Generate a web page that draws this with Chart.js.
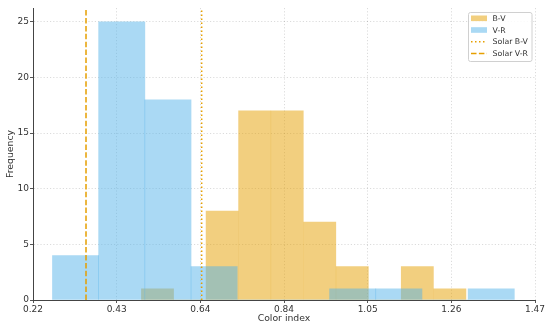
<!DOCTYPE html>
<html>
<head>
<meta charset="utf-8">
<script src="https://cdn.jsdelivr.net/npm/chart.js@4.4.1/dist/chart.umd.min.js"></script>
<style>
html,body{margin:0;padding:0;background:#fff;}
canvas{display:block;}
</style>
</head>
<body>
<canvas id="hist" width="550" height="328"></canvas>
<script>
// histogram bins (centres) and counts
const bvCenters = [0.530, 0.610, 0.691, 0.772, 0.853, 0.934, 1.015, 1.096, 1.177, 1.258];
const bvCounts = [1, 0, 8, 17, 17, 7, 3, 0, 3, 1];
const vrCenters = [0.326, 0.441, 0.556, 0.671, 0.786, 0.901, 1.016, 1.131, 1.246, 1.361];
const vrCounts = [4, 25, 18, 3, 0, 0, 1, 1, 0, 1];
const solarBV = 0.64;
const solarVR = 0.352;

const xTickValues = [0.22, 0.4283, 0.6367, 0.845, 1.0533, 1.2617, 1.47];
const xTickLabels = ["0.22", "0.43", "0.64", "0.84", "1.05", "1.26", "1.47"];
const yTicks = [0, 5, 10, 15, 20, 25];
const xMin = 0.22, xMax = 1.47, yMax = 26.25;

const orange = "#E69F00";
const FONT = "'DejaVu Sans', sans-serif";
const TXT = "#333";

function toPoints(xs, ys){
  return xs.map((x,i)=>({x:x, y:ys[i]}));
}

// draws the framed legend inside the top-right of the plot
const boxLegend = {
  id:"boxLegend",
  afterDraw(chart){
    const ctx = chart.ctx;
    const area = chart.chartArea;
    const x0 = area.right - 67, y0 = area.top + 4, w = 63.5, h = 49;
    ctx.save();
    ctx.fillStyle = "rgba(255,255,255,0.85)";
    ctx.strokeStyle = "#d0d0d0";
    ctx.lineWidth = 1;
    ctx.beginPath();
    ctx.roundRect(x0 + 0.5, y0 + 0.5, w, h, 2);
    ctx.fill();
    ctx.stroke();
    ctx.font = "7.8px " + FONT;
    ctx.textBaseline = "middle";
    chart.data.datasets.forEach((ds,i)=>{
      const cy = y0 + 6.3 + i*11.7;
      if(ds.type === "bar"){
        ctx.fillStyle = ds.backgroundColor;
        ctx.fillRect(x0 + 3, cy - 2.8, 16, 5.6);
      }else{
        ctx.strokeStyle = ds.borderColor;
        ctx.lineWidth = ds.borderWidth;
        ctx.setLineDash(ds.borderDash || []);
        ctx.beginPath();
        ctx.moveTo(x0 + 3, cy);
        ctx.lineTo(x0 + 19, cy);
        ctx.stroke();
        ctx.setLineDash([]);
      }
      ctx.fillStyle = TXT;
      ctx.fillText(ds.label, x0 + 24.5, cy + 0.5);
    });
    ctx.restore();
  }
};

function setXTicks(scale){
  scale.ticks = xTickValues.map(v=>({value:v}));
}

new Chart(document.getElementById("hist"),{
  type:"bar",
  data:{
    datasets:[
      {type:"bar", label:"B-V", data:toPoints(bvCenters, bvCounts), xAxisID:"x2", grouped:false,
       backgroundColor:"rgba(230,159,0,0.5)", borderWidth:0,
       barPercentage:1, categoryPercentage:1, order:2},
      {type:"bar", label:"V-R", data:toPoints(vrCenters, vrCounts), xAxisID:"x", grouped:false,
       backgroundColor:"rgba(86,180,233,0.5)", borderWidth:0,
       barPercentage:1, categoryPercentage:1, order:1},
      {type:"line", label:"Solar B-V", data:[{x:solarBV,y:0},{x:solarBV,y:yMax}], xAxisID:"x",
       borderColor:orange, borderWidth:1.5, borderDash:[1.5,2.5], pointRadius:0, fill:false, order:0},
      {type:"line", label:"Solar V-R", data:[{x:solarVR,y:0},{x:solarVR,y:yMax}], xAxisID:"x",
       borderColor:orange, borderWidth:1.5, borderDash:[5.5,2.4], pointRadius:0, fill:false, order:0}
    ]
  },
  options:{
    responsive:false,
    animation:false,
    layout:{padding:{top:8, right:15, left:0, bottom:0}},
    plugins:{legend:{display:false}, tooltip:{enabled:false}},
    scales:{
      x:{
        type:"linear", min:xMin, max:xMax, offset:false,
        afterBuildTicks:setXTicks,
        afterFit:(s)=>{ s.height = 28; },
        grid:{color:"rgba(0,0,0,0.14)", offset:false,
              drawTicks:true, tickLength:3, tickColor:"#555", tickBorderDash:[]},
        border:{display:true, color:"#444", width:1, dash:[1.2,2]},
        ticks:{font:{family:FONT, size:9}, color:TXT, padding:1, maxRotation:0,
               callback:(v,i)=>xTickLabels[i]},
        title:{display:true, text:"Color index", color:TXT,
               font:{family:FONT, size:9.3}, padding:{top:0, bottom:3.5}}
      },
      x2:{
        type:"linear", min:xMin, max:xMax, offset:false, display:false,
        afterBuildTicks:setXTicks
      },
      y:{
        type:"linear", min:0, max:yMax,
        afterBuildTicks:(s)=>{ s.ticks = yTicks.map(v=>({value:v})); },
        afterFit:(s)=>{ s.width = 33; },
        grid:{color:"rgba(0,0,0,0.14)",
              drawTicks:true, tickLength:3, tickColor:"#555", tickBorderDash:[]},
        border:{display:true, color:"#444", width:1, dash:[1.2,2]},
        ticks:{font:{family:FONT, size:9}, color:TXT, padding:1},
        title:{display:true, text:"Frequency", color:TXT,
               font:{family:FONT, size:9.3}, padding:{top:5.4, bottom:0}}
      }
    }
  },
  plugins:[boxLegend]
});
</script>
</body>
</html>
